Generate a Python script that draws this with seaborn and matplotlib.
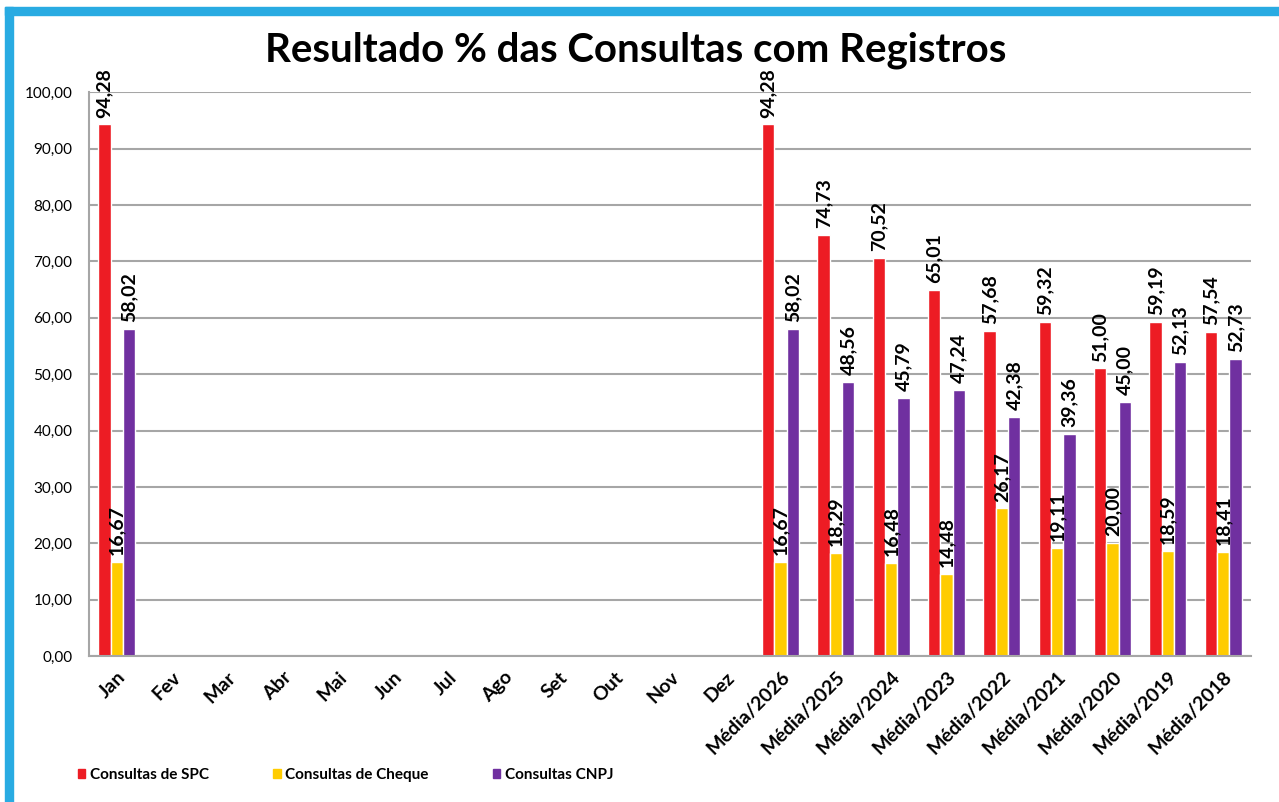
import pandas as pd
import numpy as np
import seaborn as sns
import matplotlib.pyplot as plt
from matplotlib.patches import Patch, Rectangle

categorias = ['Jan', 'Fev', 'Mar', 'Abr', 'Mai', 'Jun', 'Jul', 'Ago', 'Set', 'Out', 'Nov', 'Dez',
              'Média/2026', 'Média/2025', 'Média/2024', 'Média/2023', 'Média/2022',
              'Média/2021', 'Média/2020', 'Média/2019', 'Média/2018']
# categories that actually have values
com_dados = ['Jan', 'Média/2026', 'Média/2025', 'Média/2024', 'Média/2023', 'Média/2022',
             'Média/2021', 'Média/2020', 'Média/2019', 'Média/2018']
spc = [94.28, 94.28, 74.73, 70.52, 65.01, 57.68, 59.32, 51.00, 59.19, 57.54]
cheque = [16.67, 16.67, 18.29, 16.48, 14.48, 26.17, 19.11, 20.00, 18.59, 18.41]
cnpj = [58.02, 58.02, 48.56, 45.79, 47.24, 42.38, 39.36, 45.00, 52.13, 52.73]
series = ['Consultas de SPC', 'Consultas de Cheque', 'Consultas CNPJ']
cores = ['#ed1c24', '#ffcc00', '#7030a0']

df = pd.DataFrame({'mes': com_dados, series[0]: spc, series[1]: cheque, series[2]: cnpj})
df = df.melt(id_vars='mes', var_name='serie', value_name='valor')

sns.set_style('white')
plt.rcParams['font.family'] = ['Lato', 'DejaVu Sans']
plt.rcParams['text.color'] = 'black'
plt.rcParams['xtick.color'] = 'black'
plt.rcParams['ytick.color'] = 'black'

fig = plt.figure(figsize=(12.79, 8.02), dpi=100)
ax = fig.add_axes([0.0696, 0.182, 0.9084, 0.703])

sns.barplot(data=df, x='mes', y='valor', hue='serie', order=categorias, hue_order=series,
            palette=cores, width=0.67, saturation=1, errorbar=None, legend=False, ax=ax)

for cont in ax.containers:
    ax.bar_label(cont, fmt=lambda v: f'{v:.2f}'.replace('.', ','), rotation=90,
                 padding=5, fontsize=14, fontweight='bold', color='black')

ax.set_ylim(0, 100)
ax.set_xlim(-0.5, len(categorias) - 0.5)
ax.set_yticks(np.arange(0, 101, 10))
ax.set_yticklabels([f'{v:.2f}'.replace('.', ',') for v in np.arange(0, 101, 10)], fontsize=11)
ax.set_xticks(range(len(categorias)))
ax.set_xticklabels(categorias, rotation=45, ha='right', rotation_mode='anchor',
                   fontsize=14, fontweight='bold')
ax.tick_params(axis='y', length=0, pad=12)
ax.tick_params(axis='x', length=0, pad=9)
ax.set_xlabel('')
ax.set_ylabel('')
ax.yaxis.grid(True, color='#a6a6a6', linewidth=1.5)
ax.set_axisbelow(True)
for lado in ['top', 'right']:
    ax.spines[lado].set_visible(False)
for lado in ['left', 'bottom']:
    ax.spines[lado].set_color('#a6a6a6')
    ax.spines[lado].set_linewidth(1.5)

fig.text(0.497, 0.937, 'Resultado % das Consultas com Registros', ha='center', va='center',
         fontsize=29, fontweight='bold', color='black')

handles = [Patch(color=c) for c in cores]
fig.legend(handles, series, loc='center left', bbox_to_anchor=(0.05, 0.034), ncol=3,
           frameon=False, handlelength=0.5, handleheight=0.5, handletextpad=0.3,
           columnspacing=4.2, prop={'weight': 'bold', 'size': 11})

# blue frame on top and left
azul = '#29abe2'
fig.add_artist(Rectangle((5 / 1279, 0), 8 / 1279, 1 - 7 / 802, transform=fig.transFigure,
                         color=azul, zorder=10))
fig.add_artist(Rectangle((5 / 1279, 1 - 15 / 802), 1, 8 / 802, transform=fig.transFigure,
                         color=azul, zorder=10))

fig.savefig('out.png', dpi=100)
